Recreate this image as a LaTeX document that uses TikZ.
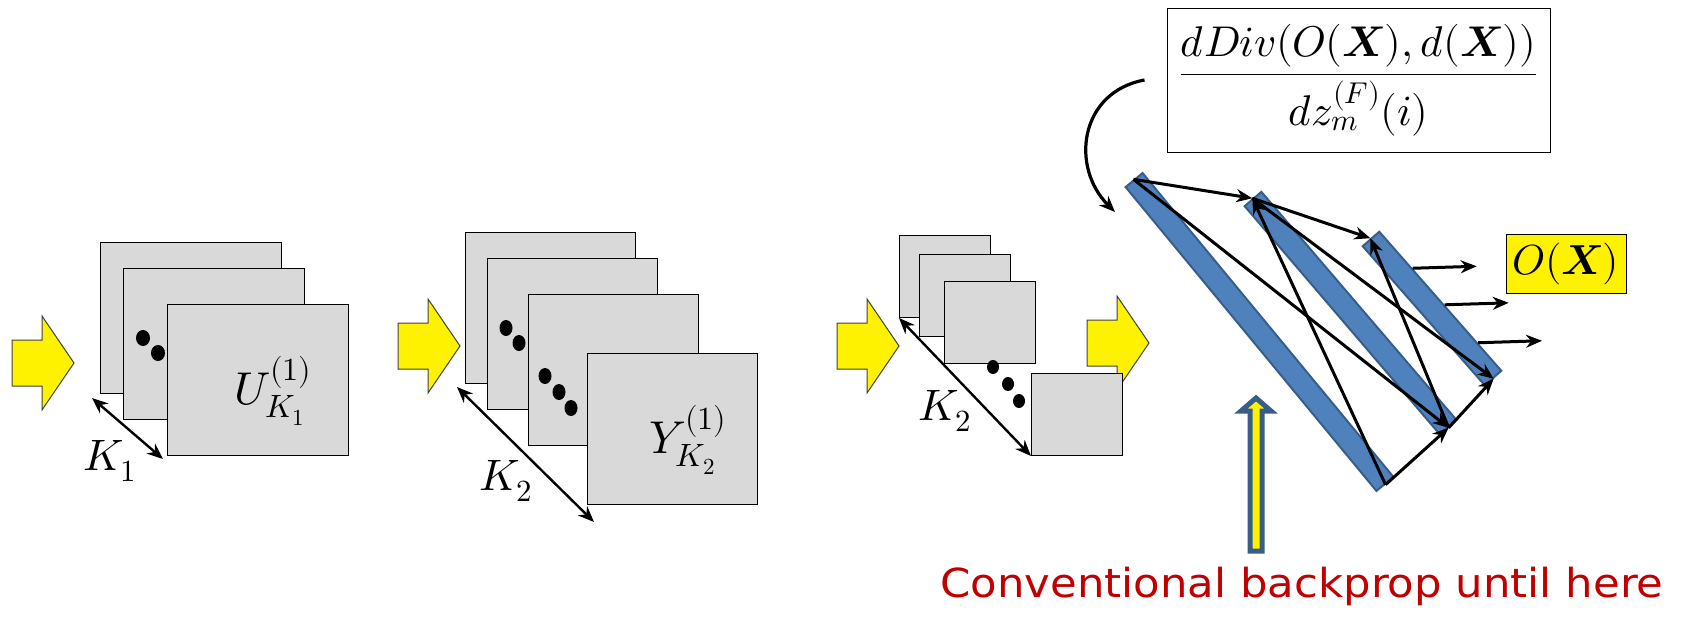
\documentclass[tikz,border=0pt]{standalone}
\usepackage{amsmath}
\usepackage{fontspec}
\usepackage{unicode-math}
\setmathfont{Latin Modern Math}
\usepackage{tikz}
\usetikzlibrary{arrows.meta,calc}
\newfontfamily\notefont{DejaVu Sans}
\definecolor{sheetgray}{RGB}{217,217,217}
\definecolor{barblue}{RGB}{79,129,189}
\definecolor{bardark}{RGB}{56,93,138}
\definecolor{notered}{RGB}{192,0,0}

\begin{document}
\begin{tikzpicture}[x=1pt, y=-1pt,
    >={Stealth[length=16pt,width=13pt]},
    sheet/.style={rectangle, draw, fill=sheetgray, line width=1pt, inner sep=0pt, anchor=north west},
    bar/.style={rectangle, draw=bardark, fill=barblue, line width=2pt, inner sep=0pt, minimum height=22pt},
    flow/.style={->, line width=3pt},
    dim/.style={<->, line width=2.4pt},
    lbl/.style={font=\fontsize{46}{52}\selectfont},
    klbl/.style={font=\fontsize{44}{50}\selectfont},
    block/.style={fill=yellow, draw=black!75, line width=1pt}
]
    \useasboundingbox (0,0) rectangle (1684,619);

    % Yellow input arrows
    \foreach \x/\y in {12/363, 398/346, 837/346, 1087/343}
        \draw[block] (\x,\y) ++(0,-23) -- ++(30,0) -- ++(0,-24) -- ++(32,47) -- ++(-32,47) -- ++(0,-24) -- ++(-30,0) -- cycle;

    % First stack
    \node[sheet, minimum width=181pt, minimum height=151pt] (u1) at (100,242) {};
    \node[sheet, minimum width=181pt, minimum height=151pt] (u2) at (123,268) {};
    \fill (143,338) ellipse [x radius=7pt, y radius=8pt];
    \fill (158,353) ellipse [x radius=7pt, y radius=8pt];
    \node[sheet, minimum width=181pt, minimum height=151pt] (u3) at (167,304) {};
    \node[lbl] (ulab) at (273,391) {$U_{K_1}^{(1)}$};
    \coordinate (k1a) at (92,398);
    \coordinate (k1b) at (163,459);
    \draw[dim] (k1a) -- (k1b);
    \node[klbl] (k1) at (110,461) {$K_1$};

    % Second stack
    \node[sheet, minimum width=170pt, minimum height=151pt] (y1) at (465,232) {};
    \node[sheet, minimum width=170pt, minimum height=151pt] (y2) at (487,258) {};
    \foreach \x/\y in {506/328, 519/343}
        \fill (\x,\y) ellipse [x radius=6.5pt, y radius=8pt];
    \node[sheet, minimum width=170pt, minimum height=151pt] (y3) at (528,294) {};
    \foreach \x/\y in {545/376, 559/392, 571/408}
        \fill (\x,\y) ellipse [x radius=6.5pt, y radius=8pt];
    \node[sheet, minimum width=170pt, minimum height=151pt] (y4) at (587,353) {};
    \node[lbl] (ylab) at (688,440) {$Y_{K_2}^{(1)}$};
    \coordinate (k2a) at (457,387);
    \coordinate (k2b) at (594,522);
    \draw[dim] (k2a) -- (k2b);
    \node[klbl] (k2) at (506,481) {$K_2$};

    % Third stack
    \node[sheet, minimum width=91pt, minimum height=82pt] (z1) at (899,235) {};
    \node[sheet, minimum width=91pt, minimum height=82pt] (z2) at (919,254) {};
    \node[sheet, minimum width=91pt, minimum height=82pt] (z3) at (944,281) {};
    \foreach \x/\y in {993/367, 1008/384, 1019/401}
        \fill (\x,\y) ellipse [x radius=6pt, y radius=7pt];
    \node[sheet, minimum width=91pt, minimum height=82pt] (z4) at (1031,373) {};
    \draw[dim] (z1.south west) -- (z4.south west);
    \node[klbl] (k3) at (945,411) {$K_2$};

    % Fully connected layers
    \node[bar, minimum width=394pt, rotate=-50.46] (b1) at (1259.5,332) {};
    \node[bar, minimum width=300pt, rotate=-49.46] (b2) at (1350.5,313) {};
    \node[bar, minimum width=185pt, rotate=-48.73] (b3) at (1432,308.5) {};
    \foreach \a/\b in {1/2, 2/3}
        \foreach \s in {west, east}
            \foreach \t in {west, east}
                \draw[flow] (b\a.\s) -- (b\b.\t);
    \foreach \f [count=\i] in {0.27, 0.53, 0.80} {
        \path ($(b3.north west)!\f!(b3.north east)$) coordinate (os\i) ++(64,-2) coordinate (oe\i);
        \draw[flow] (os\i) -- (oe\i);
    }
    \node[draw, fill=yellow, line width=1pt, minimum width=120pt, minimum height=59pt, inner sep=0pt, font=\fontsize{42}{48}\selectfont] (ox) at (1566,263.5) {$O(\symbfit{X})$};

    % Gradient box
    \node[draw, line width=1pt, minimum width=383pt, minimum height=144pt, inner sep=0pt, font=\fontsize{43}{50}\selectfont] (grad) at (1358.5,80)
        {$\dfrac{dDiv(O(\symbfit{X}),d(\symbfit{X}))}{dz_m^{(F)}(i)}$};
    \coordinate (hit) at (1115,212);
    \draw[->, line width=3.2pt] ([xshift=-22pt]grad.west) .. controls +(-65,12) and +(-45,-45) .. (hit);

    % Backprop marker
    \draw[fill=yellow, draw=bardark, line width=5pt] (1256,398) -- (1271,411) -- (1262,411) -- (1262,551) -- (1250,551) -- (1250,411) -- (1241,411) -- cycle;
    \node[text=notered, font=\notefont\fontsize{40}{46}\selectfont, anchor=base] (note) at (1302,597) {\scalebox{1.085}[1]{Conventional backprop until here}};
\end{tikzpicture}
\end{document}
